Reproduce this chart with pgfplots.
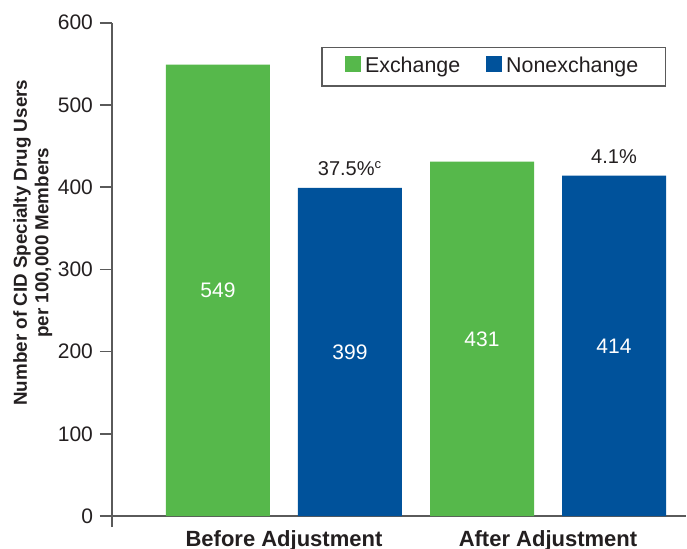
\documentclass[border=0pt]{standalone}
\usepackage{pgfplots}
\pgfplotsset{compat=1.18}
\usepackage{fontspec}
\setmainfont{Liberation Sans}
\definecolor{exgreen}{RGB}{86,184,75}
\definecolor{nxblue}{RGB}{0,82,155}
\definecolor{axgray}{RGB}{90,90,90}
\definecolor{txt}{RGB}{35,31,32}
\begin{document}
\begin{tikzpicture}
\begin{axis}[
  name=ax,
  scale only axis, width=287pt, height=246.65pt,
  xmin=-0.6515, xmax=1.5227, ymin=0, ymax=600,
  clip=false,
  axis x line*=bottom, axis y line*=left,
  axis line style={axgray, line width=0.8pt},
  ybar=14pt, bar width=52pt,
  xtick={0,1}, xticklabels={Before Adjustment, After Adjustment},
  x tick style={draw=none},
  xticklabel style={font=\fontsize{11}{13}\selectfont\bfseries, text depth=0pt, yshift=2.5pt, text=txt},
  ytick={0,100,...,600},
  ytick align=outside, major tick length=6pt,
  y tick style={axgray, line width=0.8pt},
  yticklabel style={font=\fontsize{10.5}{12}\selectfont, text=txt},
  /pgf/number format/assume math mode=true,
  ylabel={Number of CID Specialty Drug Users\\per 100,000 Members},
  ylabel style={at={(axis description cs:-0.138,0.554)}, anchor=center, align=center, font=\fontsize{9.4}{10.75}\selectfont\bfseries, text=txt},
  visualization depends on=y \as \rawy,
  nodes near coords,
  every node near coord/.append style={text=white, font=\fontsize{10.5}{12}\selectfont, anchor=center, shift={(axis direction cs:0,-\rawy/2)}},
  legend style={at={(0.965,0.951)}, anchor=north east, draw=axgray, line width=0.6pt, font=\fontsize{10.7}{12}\selectfont, text=txt, legend columns=2, inner xsep=11.5pt, inner ysep=3pt, /tikz/every even column/.append style={column sep=11pt}},
  legend image code/.code={\path[#1,draw=none] (0pt,-2.5pt) rectangle (8pt,5.5pt);},
]
\addplot[fill=exgreen, draw=none] coordinates {(0,549) (1,431)};
\addplot[fill=nxblue, draw=none] coordinates {(0,399) (1,414)};
\legend{Exchange, Nonexchange}
\draw[axgray, line width=0.8pt] ([xshift=-6pt]rel axis cs:0,0) -- (rel axis cs:0,0);
\draw[axgray, line width=0.8pt] ([yshift=-5.5pt]rel axis cs:0,0) -- (rel axis cs:0,0);
\node[anchor=base, text=txt, font=\fontsize{10}{12}\selectfont] at ([xshift=33pt,yshift=6pt]axis cs:0,399) {37.5\%\textsuperscript{\fontsize{6.5}{7}\selectfont c}};
\node[anchor=base, text=txt, font=\fontsize{10}{12}\selectfont] at ([xshift=33pt,yshift=6pt]axis cs:1,414) {4.1\%};
\end{axis}
\pgfresetboundingbox
\path ([shift={(-56pt,-16pt)}]ax.south west) rectangle ([shift={(287.5pt,258pt)}]ax.south west);
\end{tikzpicture}
\end{document}
